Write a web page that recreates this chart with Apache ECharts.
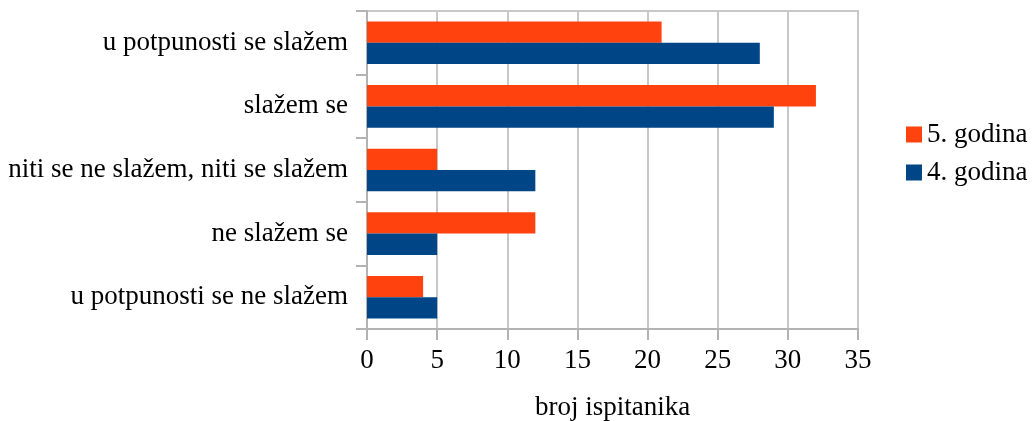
<!DOCTYPE html>
<html>
<head>
<meta charset="utf-8">
<script src="https://cdn.jsdelivr.net/npm/echarts@6/dist/echarts.min.js"></script>
<style>
  html, body { margin: 0; padding: 0; background: #fff; }
  #chart { width: 1032px; height: 421px; }
</style>
</head>
<body>
<div id="chart"></div>
<script>
	'use strict';

	/******data*****/
	var categories = ['u potpunosti se ne slažem', 'ne slažem se', 'niti se ne slažem, niti se slažem', 'slažem se', 'u potpunosti se slažem'];
	var godina5 = [4, 12, 5, 32, 21];
	var godina4 = [5, 5, 12, 29, 28];
	var seriesNames = ['5. godina', '4. godina'];

	var font = '"Liberation Serif", "Times New Roman", serif';
	var gridColor = '#c8c8c8';
	var fs = 27;

	var option = {
		animation: false,
		textStyle: { fontFamily: font },
		grid: {
		  top: 11,
		  right: 174,
		  bottom: 92,
		  left: 367,
		  outerBoundsMode: 'none'
		},
		legend: {
			data: seriesNames,
			orient: 'vertical',
			left: 901,
			top: 116,
			itemWidth: 16,
			itemHeight: 16,
			itemGap: 11,
			icon: 'rect',
			textStyle: { fontFamily: font, fontSize: fs, color: '#000' }
		},
		xAxis: {
		  type: 'value',
		  min: 0,
		  max: 35,
		  interval: 5,
		  name: 'broj ispitanika',
		  nameLocation: 'middle',
		  nameGap: 65,
		  nameTextStyle: { fontFamily: font, fontSize: fs, color: '#000' },
		  axisLine: { show: true, lineStyle: { color: '#b3b3b3', width: 2 } },
		  axisTick: { show: true, length: 11, lineStyle: { color: '#b3b3b3', width: 2 } },
		  splitLine: { show: true, lineStyle: { color: gridColor, width: 2 } },
		  axisLabel: { fontFamily: font, fontSize: fs, color: '#000', margin: 18 }
		},
		yAxis: {
		  type: 'category',
		  data: categories,
		  axisLine: { show: true, lineStyle: { color: '#b3b3b3', width: 2 } },
		  axisTick: { show: true, length: 11, lineStyle: { color: '#b3b3b3', width: 2 } },
		  splitLine: { show: false },
		  axisLabel: { fontFamily: font, fontSize: fs, color: '#000', margin: 19 }
		},
		series: [
			{
			  name: seriesNames[0],
			  type: 'bar',
			  barCategoryGap: '33%',
			  barGap: '0%',
			  itemStyle: { color: '#ff420e' },
			  data: godina5
			},
			{
			  name: seriesNames[1],
			  type: 'bar',
			  barCategoryGap: '33%',
			  barGap: '0%',
			  itemStyle: { color: '#004586' },
			  data: godina4
			}
		],
		// right and top border of the plot area
		graphic: [{
			type: 'rect',
			shape: { x: 367, y: 11, width: 491, height: 318 },
			style: { fill: 'none', stroke: gridColor, lineWidth: 2 },
			silent: true,
			z: -1
		}]
	};
	var chartbox = echarts.init(document.getElementById('chart'));
	chartbox.setOption(option);
</script>
</body>
</html>
